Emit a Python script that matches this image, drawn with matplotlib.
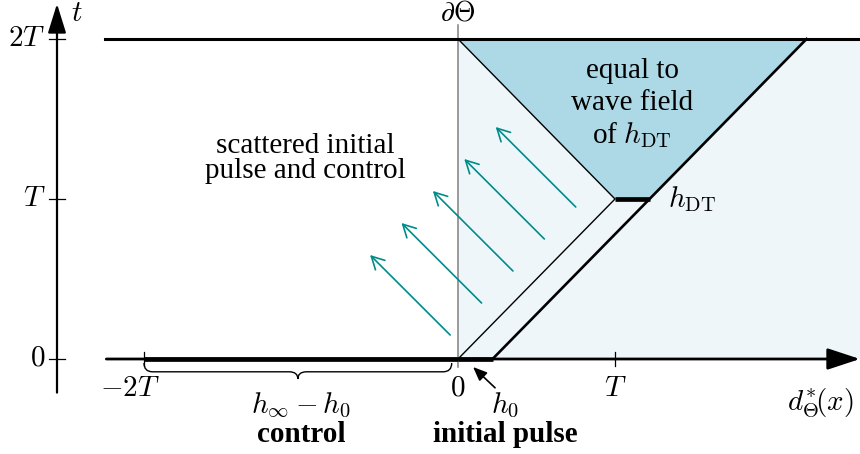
import matplotlib
matplotlib.use('Agg')
import matplotlib.pyplot as plt
from matplotlib.path import Path
from matplotlib.patches import PathPatch
import numpy as np

plt.rcParams['mathtext.fontset'] = 'cm'
plt.rcParams['font.family'] = ['Liberation Serif', 'DejaVu Serif']

# values in units of T
h0 = 0.22                      # width of the initial pulse
control_start = -2.0           # control lives on [-2T, 0]
t_end = 2.0
x_ticks = [-2, 0, 1]
x_tick_labels = [r'$-2T$', r'$0$', r'$T$']
t_ticks = [0, 1, 2]
t_tick_labels = [r'$0$', r'$T$', r'$2T$']

# scattered wave arrows (tail points, common direction)
arrow_tail_x = [-0.05, 0.15, 0.35, 0.55, 0.75]
arrow_tail_t = [0.15, 0.35, 0.55, 0.75, 0.95]
arrow_dx, arrow_dt = -0.51, 0.50

light = '#eef6fa'
dark = '#add8e6'
teal = '#008b8b'

fig = plt.figure(figsize=(8.6, 4.54), dpi=100)
ax = fig.add_axes([0, 0, 1, 1])
ax.set_xlim(-458 / 157, 402 / 157)
ax.set_ylim(-95 / 160, 359 / 160)
ax.axis('off')

x_right = 2.6
# light blue region right of the boundary
ax.fill([0, x_right, x_right, 0], [0, 0, t_end, t_end], color=light, lw=0, zorder=0)
# dark region: equal to wave field of h_DT
ax.fill([0, 1, 1 + h0, t_end + h0], [t_end, 1, 1, t_end], color=dark, lw=0, zorder=1)

# boundary dTheta
ax.plot([0, 0], [-0.05, 2.09], color='gray', lw=1.1, zorder=2)

# light cone lines
ax.plot([0, 1, 0], [0, 1, t_end], color='k', lw=1.0, zorder=3)
ax.plot([h0, t_end + h0], [0, t_end], color='k', lw=1.9, zorder=3)
ax.plot([-2.25, x_right], [t_end, t_end], color='k', lw=2.2, zorder=3)

# thick pieces: control, initial pulse, h_DT
ax.plot([control_start, 0], [0, 0], color='k', lw=3.4, solid_capstyle='butt', zorder=4)
ax.plot([0, h0], [0, 0], color='k', lw=3.4, solid_capstyle='butt', zorder=4)
ax.plot([1, 1 + h0], [1, 1], color='k', lw=3.4, solid_capstyle='butt', zorder=4)

# axes with arrows
ax.annotate('', xy=(2.56, 0), xytext=(-2.24, 0),
            arrowprops=dict(arrowstyle='-|>,head_length=1.0,head_width=0.33',
                            mutation_scale=20, color='k', lw=2.0,
                            shrinkA=0, shrinkB=0), zorder=4)
y_axis_x = -401 / 157
ax.annotate('', xy=(y_axis_x, 2.22), xytext=(y_axis_x, -0.21),
            arrowprops=dict(arrowstyle='-|>,head_length=0.9,head_width=0.28',
                            mutation_scale=20, color='k', lw=1.6,
                            shrinkA=0, shrinkB=0), zorder=4)

# ticks
for x in x_ticks:
    if x != 0:
        ax.plot([x, x], [-0.045, 0.045], color='k', lw=0.9, zorder=4)
for t in t_ticks:
    ax.plot([y_axis_x - 0.048, y_axis_x + 0.048], [t, t], color='k', lw=0.9, zorder=4)

fs = 21
x_label_pos = [-2.09, 0, 1.0]
for x, lab in zip(x_label_pos, x_tick_labels):
    ax.text(x, -0.185, lab, ha='center', va='center', fontsize=fs)
for t, lab in zip(t_ticks, t_tick_labels):
    ax.text(y_axis_x - 0.075, t, lab, ha='right', va='center', fontsize=fs)

ax.text(-2.43, 2.235, r'$t$', ha='center', va='top', fontsize=fs)
ax.text(0, 2.235, r'$\partial\Theta$', ha='center', va='top', fontsize=20)
ax.text(2.31, -0.27, r'$d^{*}_{\Theta}\!(x)$', ha='center', va='center', fontsize=fs)

# scattered arrows
for xt, tt in zip(arrow_tail_x, arrow_tail_t):
    ax.annotate('', xy=(xt + arrow_dx, tt + arrow_dt), xytext=(xt, tt),
                arrowprops=dict(arrowstyle='->,head_length=0.6,head_width=0.32',
                                mutation_scale=15, color=teal, lw=1.2,
                                shrinkA=0, shrinkB=0), zorder=5)

# brace under the control
def brace(x0, x1, ytop, ymid, ytip, r=0.055):
    xm = 0.5 * (x0 + x1)
    verts = [(x0, ytop), (x0, ymid), (x0 + r, ymid),
             (xm - r, ymid), (xm, ymid), (xm, ytip),
             (xm, ymid), (xm + r, ymid),
             (x1 - r, ymid), (x1, ymid), (x1, ytop)]
    codes = [Path.MOVETO, Path.CURVE3, Path.CURVE3,
             Path.LINETO, Path.CURVE3, Path.CURVE3,
             Path.CURVE3, Path.CURVE3,
             Path.LINETO, Path.CURVE3, Path.CURVE3]
    ax.add_patch(PathPatch(Path(verts, codes), fill=False, lw=1.0, color='k', zorder=4))

brace(control_start, -0.04, -0.025, -0.08, -0.125)

ax.text(-1.0, -0.29, r'$h_\infty - h_0$', ha='center', va='center', fontsize=fs)
ax.text(-1.0, -0.47, 'control', ha='center', va='center', fontsize=fs, fontweight='bold')
ax.text(0.30, -0.29, r'$h_0$', ha='center', va='center', fontsize=fs)
ax.text(0.30, -0.47, 'initial pulse', ha='center', va='center', fontsize=fs, fontweight='bold')
ax.annotate('', xy=(0.096, -0.05), xytext=(0.236, -0.18),
            arrowprops=dict(arrowstyle='-|>,head_length=0.6,head_width=0.25',
                            mutation_scale=14, color='k', lw=1.2,
                            shrinkA=0, shrinkB=0), zorder=5)

ax.text(1.335, 1.0, r'$h_{\mathrm{DT}}$', ha='left', va='center', fontsize=fs)

# region texts
ax.text(-0.97, 1.33, 'scattered initial', ha='center', va='center', fontsize=fs)
ax.text(-0.97, 1.175, 'pulse and control', ha='center', va='center', fontsize=fs)
ax.text(1.11, 1.80, 'equal to', ha='center', va='center', fontsize=fs)
ax.text(1.11, 1.60, 'wave field', ha='center', va='center', fontsize=fs)
ax.text(1.11, 1.40, r'of $h_{\mathrm{DT}}$', ha='center', va='center', fontsize=fs)

fig.savefig('out.png', dpi=100)
